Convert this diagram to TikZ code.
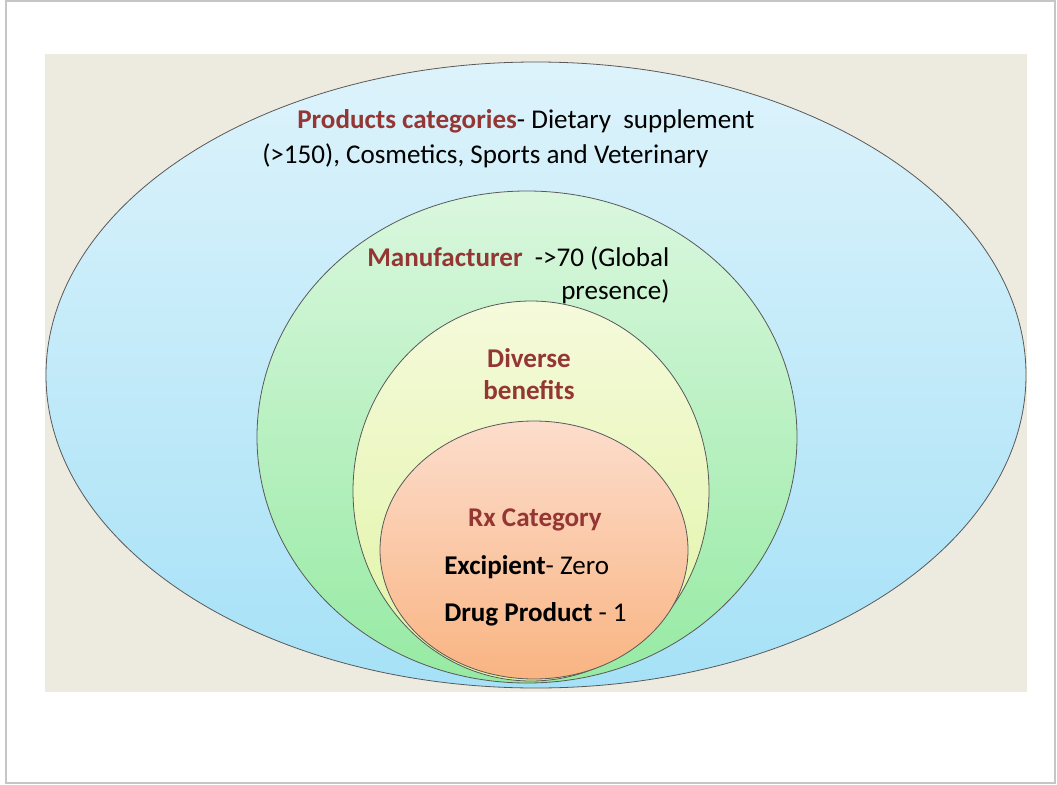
\documentclass[tikz,border=0pt]{standalone}
\usepackage{fontspec}
\setmainfont{Carlito}
\usepackage{xcolor}
\usetikzlibrary{positioning}

\definecolor{paper}{HTML}{EDEADF}
\definecolor{skytop}{HTML}{DDF3FB}
\definecolor{skybot}{HTML}{A6E1F7}
\definecolor{mintop}{HTML}{DAF7DE}
\definecolor{minbot}{HTML}{96EAA3}
\definecolor{limetop}{HTML}{F5FADB}
\definecolor{limebot}{HTML}{E0F4A4}
\definecolor{peachtop}{HTML}{FCDDCC}
\definecolor{peachbot}{HTML}{F9B482}
\definecolor{headred}{HTML}{943634}

\tikzset{
  ring/.style={draw=gray!70!black, line width=0.6pt},
  txt/.style={inner sep=0pt, font=\fontsize{20.3}{24}\selectfont},
  head/.style={txt, text=headred, font=\fontsize{20.3}{24}\selectfont\bfseries}
}

\begin{document}
\begin{tikzpicture}[x=0.75pt, y=-0.75pt]
	\useasboundingbox (0,0) rectangle (1057,785);
	\draw[gray!45, line width=1.2pt] (6,1) rectangle (1055,783);
	\fill[paper] (45,54) rectangle (1027,692);
	% rings, outer to inner
	\draw[ring, top color=skytop, bottom color=skybot] (536,375) ellipse [x radius=490, y radius=313];
	\draw[ring, top color=mintop, bottom color=minbot] (527,437) ellipse [x radius=270, y radius=246];
	\draw[ring, top color=limetop, bottom color=limebot] (531,491) ellipse [x radius=178, y radius=190];
	\draw[ring, top color=peachtop, bottom color=peachbot] (534,550) ellipse [x radius=154, y radius=129];
	% labels
	\node[txt, anchor=west] (cat1) at (297,121) {{\color{headred}\bfseries Products categories}- Dietary\ \ supplement};
	\node[txt, anchor=west] (cat2) at (262,156) {(>150), Cosmetics, Sports and Veterinary};
	\node[txt, anchor=west] (man1) at (367,258) {{\color{headred}\bfseries Manufacturer}\ \ ->70 (Global};
	\node[txt, anchor=west] (man2) at (561,292) {presence)};
	\node[head] (ben1) at (529,358) {Diverse};
	\node[head] (ben2) at (529,390) {benefits};
	\node[head] (rx) at (535,520) {Rx Category};
	\node[txt, anchor=west] (exc) at (444,567) {\textbf{Excipient}- Zero};
	\node[txt, anchor=west] (drug) at (444,614) {\textbf{Drug Product} - 1};
\end{tikzpicture}
\end{document}
